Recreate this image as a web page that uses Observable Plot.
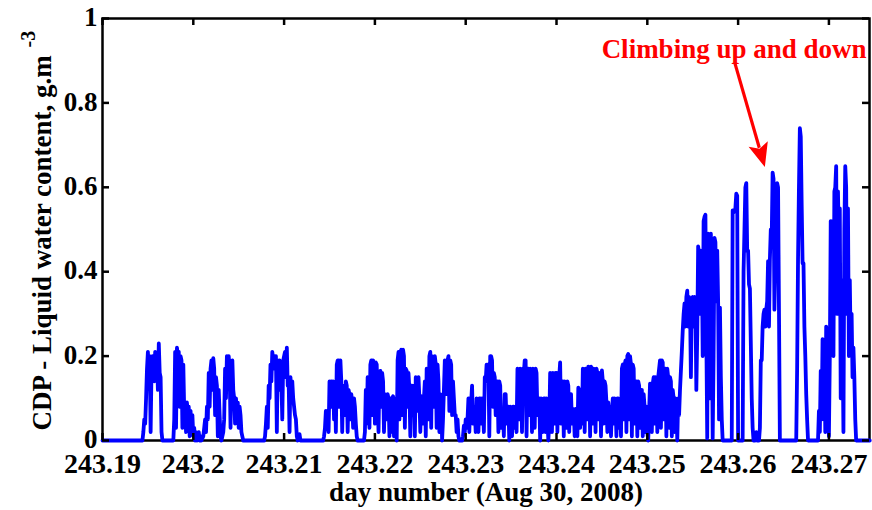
<!DOCTYPE html>
<html><head><meta charset="utf-8">
<script src="https://cdn.jsdelivr.net/npm/d3@7"></script>
<script src="https://cdn.jsdelivr.net/npm/@observablehq/plot@0.6"></script>
<style>
html,body{margin:0;padding:0;background:#fff;}
#chart{width:872px;height:510px;}
</style></head><body><div id="chart"></div>
<script>
// ---- axis ticks / labels ----
const xTicks = [243.19, 243.2, 243.21, 243.22, 243.23, 243.24, 243.25, 243.26, 243.27];
const yTicks = [0, 0.2, 0.4, 0.6, 0.8, 1];
const xDomain = [243.19, 243.27447];
const yDomain = [0, 1];
const xLabel = "day number (Aug 30, 2008)";
const yLabel = "CDP - Liquid water content, g.m";
const yLabelSup = "-3";
const annotationText = "Climbing up and down";
const arrowFrom = [243.2597, 0.893];
const arrowTo = [243.2630, 0.647];

// ---- CDP liquid water content series: [day number, g/m^3] ----
const lead = [[243.19,0]];
const burst1 = [[243.1944,0],[243.1945,0.02],[243.1946,0.05],[243.1947,0.04],[243.1948,0.10],[243.1949,0.17],[243.1950,0.21],[243.1951,0.16],[243.1952,0.20],[243.1953,0.02],[243.1954,0.17],[243.1955,0.20],[243.1956,0.19],[243.1957,0.14],[243.1958,0.21],[243.1959,0.16],[243.1960,0.20],[243.1961,0.12],[243.1962,0.23],[243.1963,0.16],[243.1964,0.15],[243.1965,0.02],[243.1966,0]];
const burst2 = [[243.1978,0],[243.1979,0.05],[243.1980,0.21],[243.1981,0.03],[243.1982,0.22],[243.1983,0.20],[243.1984,0.21],[243.1985,0.08],[243.1986,0.20],[243.1987,0.19],[243.1988,0.03],[243.1989,0.18],[243.1990,0.07],[243.1991,0.08],[243.1992,0.02],[243.1993,0.09],[243.1994,0.06],[243.1995,0.08],[243.1996,0.01],[243.1997,0.07],[243.1998,0.03],[243.1999,0.06],[243.2000,0.01],[243.2001,0.03],[243.2002,0],[243.2003,0.02],[243.2004,0],[243.2006,0.02],[243.2007,0],[243.2008,0.01],[243.2009,0]];
const burst3 = [[243.2011,0.01],[243.2012,0.03],[243.2013,0.05],[243.2014,0.02],[243.2015,0.08],[243.2016,0.05],[243.2017,0.16],[243.2018,0.08],[243.2019,0.17],[243.2020,0.19],[243.2021,0.12],[243.2022,0.195],[243.2023,0.17],[243.2024,0.06],[243.2025,0.15],[243.2026,0.13],[243.2027,0.01],[243.2028,0.12],[243.2029,0.06],[243.2030,0.01],[243.2031,0]];
const burst4 = [[243.2033,0.02],[243.2034,0.05],[243.2035,0.17],[243.2036,0.10],[243.2037,0.20],[243.2038,0.16],[243.2039,0.20],[243.2040,0.17],[243.2041,0.03],[243.2042,0.17],[243.2043,0.19],[243.2044,0.12],[243.2045,0.10],[243.2046,0.04],[243.2047,0.10],[243.2048,0.07],[243.2049,0.09],[243.2050,0.03],[243.2051,0.08],[243.2052,0.06],[243.2053,0.02],[243.2054,0.01],[243.2055,0]];
const burst5 = [[243.2078,0],[243.2079,0.01],[243.2080,0.04],[243.2081,0.08],[243.2082,0.03],[243.2083,0.13],[243.2084,0.10],[243.2085,0.18],[243.2086,0.14],[243.2087,0.21],[243.2088,0.19],[243.2089,0.20],[243.2090,0.17],[243.2091,0.20],[243.2092,0.02],[243.2093,0.19],[243.2094,0.16],[243.2095,0.19],[243.2096,0.12],[243.2097,0.14],[243.2098,0.05],[243.2099,0.19],[243.2100,0.20],[243.2101,0.21],[243.2102,0.15],[243.2103,0.22],[243.2104,0.13],[243.2105,0.14],[243.2106,0.02],[243.2107,0.15],[243.2108,0.11],[243.2109,0.14],[243.2110,0.10],[243.2111,0.08],[243.2112,0.06],[243.2113,0.05],[243.2114,0.01],[243.2115,0],[243.2116,0.01],[243.2117,0.015],[243.2118,0]];
const burst6 = [[243.2143,0],[243.2144,0.01],[243.2145,0.03],[243.2146,0.07],[243.2147,0.06],[243.2148,0.07],[243.2149,0.02],[243.2150,0.14],[243.2151,0.12],[243.2152,0.14],[243.2153,0.08],[243.2154,0.14],[243.2155,0.05],[243.2156,0.13],[243.2157,0.02],[243.2158,0.18],[243.2159,0.19],[243.2160,0.19],[243.2161,0.08],[243.2162,0.19],[243.2163,0.14],[243.2164,0.02],[243.2165,0.13],[243.2166,0.12],[243.2167,0.06],[243.2168,0.14],[243.2169,0.13],[243.2170,0.02],[243.2171,0.12],[243.2172,0.11],[243.2173,0.05],[243.2174,0.11],[243.2175,0.09],[243.2176,0.03],[243.2177,0.10],[243.2178,0.08],[243.2179,0.04],[243.2180,0.01],[243.2181,0]];
const burst7 = [[243.2188,0],[243.2189,0.02],[243.2190,0.12],[243.2191,0.04],[243.2192,0.15],[243.2193,0.12],[243.2194,0.03],[243.2195,0.18],[243.2196,0.19],[243.2197,0.06],[243.2198,0.19],[243.2199,0.17],[243.2200,0.04],[243.2201,0.185],[243.2202,0.18],[243.2203,0.09],[243.2204,0.02],[243.2205,0.16],[243.2206,0.165],[243.2207,0.08],[243.2208,0.16],[243.2209,0.14],[243.2210,0.02],[243.2211,0.11],[243.2212,0.10],[243.2213,0.05],[243.2214,0.11],[243.2215,0.10],[243.2216,0.01],[243.2217,0.10],[243.2218,0.02],[243.2219,0.10],[243.2220,0.105],[243.2221,0.01],[243.2222,0.10],[243.2223,0.07],[243.2224,0],[243.2225,0.19],[243.2226,0.21],[243.2227,0.05],[243.2228,0.21],[243.2229,0.215],[243.2230,0.06],[243.2231,0.215],[243.2232,0.20],[243.2233,0.03],[243.2234,0.17],[243.2235,0.165],[243.2236,0.08],[243.2237,0.16],[243.2238,0.12],[243.2239,0.01],[243.2240,0.13],[243.2241,0.13],[243.2242,0.06],[243.2243,0.13],[243.2244,0.01],[243.2245,0.15],[243.2246,0.14],[243.2247,0.07],[243.2248,0.15],[243.2249,0.10],[243.2250,0.02],[243.2251,0.105],[243.2252,0.09],[243.2253,0.04],[243.2254,0.10],[243.2255,0.14],[243.2256,0.01],[243.2257,0.17],[243.2258,0.14],[243.2259,0.05],[243.2260,0.20],[243.2261,0.21],[243.2262,0.03],[243.2263,0.20],[243.2264,0.19],[243.2265,0.08],[243.2266,0.20],[243.2267,0.18],[243.2268,0.03],[243.2269,0.18],[243.2270,0.14],[243.2271,0.02],[243.2272,0.11],[243.2273,0.10],[243.2274,0],[243.2275,0.05],[243.2276,0.12],[243.2277,0.19],[243.2278,0.15],[243.2279,0.11],[243.2280,0.19],[243.2281,0.20],[243.2282,0.07],[243.2283,0.19],[243.2284,0.18],[243.2285,0.06],[243.2286,0.14],[243.2287,0.10],[243.2288,0.06],[243.2289,0.06],[243.2290,0.02],[243.2291,0.05],[243.2292,0.01],[243.2293,0]];
const passA = [[243.2296,0],[243.2297,0.01],[243.2298,0.035],[243.2299,0.02],[243.2300,0.05],[243.2301,0.03],[243.2302,0.05],[243.2303,0.10],[243.2304,0.02],[243.2305,0.10],[243.2306,0.09],[243.2307,0.13],[243.2308,0.04],[243.2309,0.08],[243.2310,0.07],[243.2311,0.02],[243.2312,0.10],[243.2313,0.09],[243.2314,0.02],[243.2315,0.10],[243.2316,0.10],[243.2317,0.04],[243.2318,0.10],[243.2319,0.08],[243.2320,0.02],[243.2321,0.15],[243.2322,0.14],[243.2323,0.18],[243.2324,0.17],[243.2325,0.18],[243.2326,0.01],[243.2327,0.20],[243.2328,0.20],[243.2329,0.19],[243.2330,0.08],[243.2331,0.16],[243.2332,0.15],[243.2333,0.06],[243.2334,0.14],[243.2335,0.14],[243.2336,0.02],[243.2337,0.14],[243.2338,0.13],[243.2339,0.03],[243.2340,0.07],[243.2341,0.07],[243.2342,0.01],[243.2343,0.11],[243.2344,0.11],[243.2345,0.04],[243.2346,0.06],[243.2347,0.08],[243.2348,0],[243.2349,0.08],[243.2350,0.06],[243.2351,0.01],[243.2352,0.08],[243.2353,0.08],[243.2354,0.03],[243.2355,0.08],[243.2356,0.02],[243.2357,0.17],[243.2358,0.16],[243.2359,0.05],[243.2360,0.17],[243.2361,0.15],[243.2362,0.02],[243.2363,0.17],[243.2364,0.16],[243.2365,0.19],[243.2366,0.19],[243.2367,0.01],[243.2368,0.17],[243.2369,0.17],[243.2370,0.06],[243.2371,0.17],[243.2372,0.16],[243.2373,0.02],[243.2374,0.17],[243.2375,0.16],[243.2376,0.03],[243.2377,0.17],[243.2378,0.16],[243.2379,0.06],[243.2380,0.10],[243.2381,0.10],[243.2382,0],[243.2383,0.10],[243.2384,0.09],[243.2385,0.02],[243.2386,0.10],[243.2387,0.10],[243.2388,0.02],[243.2389,0.10],[243.2390,0.05],[243.2391,0],[243.2392,0.04],[243.2393,0.16],[243.2394,0.15],[243.2395,0.02],[243.2396,0.16],[243.2397,0.15],[243.2398,0.04],[243.2399,0.16],[243.2400,0.16],[243.2401,0.02],[243.2402,0.16],[243.2403,0.15],[243.2404,0.185],[243.2405,0.04],[243.2406,0.14],[243.2407,0.14],[243.2408,0.01],[243.2409,0.14],[243.2410,0.13],[243.2411,0.03],[243.2412,0.14],[243.2413,0.13],[243.2414,0.02],[243.2415,0.11],[243.2416,0.11],[243.2417,0.04],[243.2418,0.075],[243.2419,0.07],[243.2420,0.01],[243.2421,0.075],[243.2422,0.07],[243.2423,0.01],[243.2424,0.125],[243.2425,0.12],[243.2426,0.03],[243.2427,0.12],[243.2428,0.04],[243.2429,0.17],[243.2430,0.16],[243.2431,0.02],[243.2432,0.17],[243.2433,0.16],[243.2434,0.05],[243.2435,0.175],[243.2436,0.17],[243.2437,0.01],[243.2438,0.175],[243.2439,0.17],[243.2440,0.04],[243.2441,0.17],[243.2442,0.16],[243.2443,0.02],[243.2444,0.17],[243.2445,0.16],[243.2446,0.05],[243.2447,0.16],[243.2448,0.15],[243.2449,0.01]];
const passB = [[243.2450,0.166],[243.2451,0.14],[243.2452,0.04],[243.2453,0.14],[243.2454,0.13],[243.2455,0.09],[243.2456,0.02],[243.2457,0.09],[243.2458,0.05],[243.2459,0.08],[243.2460,0.01],[243.2461,0.07],[243.2462,0.10],[243.2463,0.04],[243.2464,0.10],[243.2465,0.09],[243.2466,0.01],[243.2467,0.10],[243.2468,0.10],[243.2469,0.03],[243.2470,0.09],[243.2471,0.01],[243.2472,0.17],[243.2473,0.18],[243.2474,0.05],[243.2475,0.18],[243.2476,0.19],[243.2477,0.02],[243.2478,0.20],[243.2479,0.205],[243.2480,0.05],[243.2481,0.20],[243.2482,0.18],[243.2483,0.01],[243.2484,0.18],[243.2485,0.17],[243.2486,0.04],[243.2487,0.14],[243.2488,0.14],[243.2489,0.01],[243.2490,0.14],[243.2491,0.13],[243.2492,0.03],[243.2493,0.12],[243.2494,0.12],[243.2495,0.01],[243.2496,0.11],[243.2497,0.08],[243.2498,0.02],[243.2499,0.08],[243.2500,0.02],[243.2501,0],[243.2502,0.07],[243.2503,0.135],[243.2504,0.13],[243.2505,0.02],[243.2506,0.135],[243.2507,0.15],[243.2508,0.04],[243.2509,0.15],[243.2510,0.14],[243.2511,0.02],[243.2512,0.15],[243.2513,0.17],[243.2514,0.19],[243.2515,0.03],[243.2516,0.19],[243.2517,0.185],[243.2518,0.05],[243.2519,0.17],[243.2520,0.17],[243.2521,0.01],[243.2522,0.17],[243.2523,0.15],[243.2524,0.03],[243.2525,0.15],[243.2526,0.14],[243.2527,0.01],[243.2528,0.12],[243.2529,0.10],[243.2530,0.02],[243.2531,0.10],[243.2532,0.09],[243.2533,0],[243.2534,0.10],[243.2535,0.06],[243.2536,0.12],[243.2537,0.165],[243.2538,0.21],[243.2539,0.26],[243.2540,0.30],[243.2541,0.325],[243.2542,0.27],[243.2543,0.34],[243.2544,0.355],[243.2545,0.27],[243.2546,0.34],[243.2547,0.33],[243.2548,0.15],[243.2549,0.33],[243.2550,0.34],[243.2551,0.27],[243.2552,0.34],[243.2553,0.33],[243.2554,0.12],[243.2555,0.25],[243.2556,0.46],[243.2557,0.44],[243.2558,0.30],[243.2559,0.45],[243.2560,0.44],[243.2561,0.20],[243.2562,0.52],[243.2563,0.53],[243.2564,0.535],[243.2565,0.25],[243.2566,0.005],[243.2567,0.49],[243.2568,0.48],[243.2569,0.10],[243.2570,0.49],[243.2571,0.30],[243.2572,0.005],[243.2573,0.20],[243.2574,0.48],[243.2575,0.47],[243.2576,0.33],[243.2577,0.45],[243.2578,0.33],[243.2579,0.05],[243.2580,0.315],[243.2581,0.15],[243.2582,0.05],[243.2583,0]];
const climbs = [[243.2593,0],[243.2594,0.545],[243.2595,0.54],[243.2596,0.545],[243.2597,0.55],[243.2598,0.585],[243.2599,0.58],[243.2600,0],[243.2605,0],[243.2606,0.40],[243.2607,0.50],[243.2608,0.60],[243.2609,0.61],[243.2610,0.45],[243.2611,0.45],[243.2612,0.37],[243.2613,0.36],[243.2614,0.23],[243.2615,0.10],[243.2616,0.03],[243.2617,0],[243.2618,0.01],[243.2619,0],[243.2620,0.02],[243.2621,0],[243.2623,0],[243.2624,0.03],[243.2625,0.19],[243.2626,0.19],[243.2627,0.27],[243.2628,0.30],[243.2629,0.31],[243.2630,0.27],[243.2631,0.31],[243.2632,0.33],[243.2633,0.425],[243.2634,0.27],[243.2635,0.43],[243.2636,0.50],[243.2637,0.48],[243.2638,0.635],[243.2639,0.62],[243.2640,0.31],[243.2641,0.42],[243.2642,0.45],[243.2643,0.61],[243.2644,0.60],[243.2645,0.31],[243.2646,0]];
const burst11 = [[243.2664,0],[243.2665,0.17],[243.2666,0.43],[243.2667,0.60],[243.2668,0.74],[243.2669,0.72],[243.2670,0.56],[243.2671,0.42],[243.2672,0.42],[243.2673,0.27],[243.2674,0.20],[243.2675,0.11],[243.2676,0.05],[243.2677,0]];
const burst12 = [[243.2688,0],[243.2689,0.07],[243.2690,0.02],[243.2691,0.165],[243.2692,0.05],[243.2693,0.24],[243.2694,0.10],[243.2695,0.23],[243.2696,0.02],[243.2697,0.27],[243.2698,0.12],[243.2699,0.26],[243.2700,0.01],[243.2701,0.20],[243.2702,0.52],[243.2703,0.44],[243.2704,0.52],[243.2705,0.20],[243.2706,0.59],[243.2707,0.60],[243.2708,0.65],[243.2709,0.30],[243.2710,0.59],[243.2711,0.45],[243.2712,0.55],[243.2713,0.10],[243.2714,0.38],[243.2715,0.25],[243.2716,0.02],[243.2717,0.50],[243.2718,0.65],[243.2719,0.60],[243.2720,0.30],[243.2721,0.55],[243.2722,0.20],[243.2723,0.38],[243.2724,0.22],[243.2725,0.30],[243.2726,0.15],[243.2727,0.22],[243.2728,0.15],[243.2729,0.05],[243.2730,0],[243.2745,0]];

const series = [].concat(lead, burst1, burst2, burst3, burst4, burst5, burst6, burst7, passA, passB, climbs, burst11, burst12)
  .map(([day, lwc]) => ({day, lwc}));

// ---- layout ----
const W = 872, H = 510;
const mL = 102, mR = 3, mT = 18, mB = 70;
const tickLen = 7;
const frameW = W - mL - mR, frameH = H - mT - mB;
const font = "'Liberation Serif','Times New Roman',Times,serif";

function arrowMark(index, scales) {
  const x1 = scales.x(arrowFrom[0]), y1 = scales.y(arrowFrom[1]);
  const x2 = scales.x(arrowTo[0]), y2 = scales.y(arrowTo[1]);
  const len = Math.hypot(x2 - x1, y2 - y1);
  const ux = (x2 - x1) / len, uy = (y2 - y1) / len;
  const L = 24, Wd = 10;
  const bx = x2 - ux * L, by = y2 - uy * L;
  const g = d3.create("svg:g");
  g.append("line").attr("x1", x1).attr("y1", y1).attr("x2", bx + ux * 4).attr("y2", by + uy * 4)
    .attr("stroke", "#ff0000").attr("stroke-width", 3.2);
  g.append("path")
    .attr("d", `M${x2},${y2}L${bx - uy * Wd},${by + ux * Wd}L${bx + ux * 5},${by + uy * 5}L${bx + uy * Wd},${by - ux * Wd}Z`)
    .attr("fill", "#ff0000");
  return g.node();
}

const txt = {fontSize: 27, fontWeight: "bold", lineAnchor: "middle"};

const chart = Plot.plot({
  width: W, height: H,
  marginLeft: mL, marginRight: mR, marginTop: mT, marginBottom: mB,
  x: {domain: xDomain, label: null},
  y: {domain: yDomain, label: null},
  style: {fontFamily: font, fontWeight: "bold", fontSize: "27px", color: "black", background: "white", overflow: "visible"},
  marks: [
    Plot.frame({stroke: "black", strokeWidth: 2.5}),
    Plot.line(series, {x: "day", y: "lwc", stroke: "#0000ff", strokeWidth: 3.8, strokeLinejoin: "round"}),
    // inward tick marks on all four sides
    Plot.tickX(xTicks, {x: d => d, insetTop: frameH - tickLen, stroke: "black", strokeWidth: 2.5}),
    Plot.tickX(xTicks, {x: d => d, insetBottom: frameH - tickLen, stroke: "black", strokeWidth: 2.5}),
    Plot.tickY(yTicks, {y: d => d, insetRight: frameW - tickLen, stroke: "black", strokeWidth: 2.5}),
    Plot.tickY(yTicks, {y: d => d, insetLeft: frameW - tickLen, stroke: "black", strokeWidth: 2.5}),
    Plot.axisX({ticks: xTicks, tickSize: 0, tickPadding: 13, tickFormat: d => String(d), label: null, fontSize: 28, fill: "black"}),
    Plot.axisY({ticks: yTicks, tickSize: 0, tickPadding: 5, tickFormat: d => String(d), label: null, fontSize: 27, fill: "black", dy: -1}),
    Plot.text([xLabel], {...txt, text: d => d, frameAnchor: "bottom", textAnchor: "middle", dy: 52, fill: "black"}),
    Plot.text([yLabel], {...txt, text: d => d, frameAnchor: "bottom-left", rotate: -90, textAnchor: "start", dx: -60.6, dy: -10, fill: "black"}),
    Plot.text([yLabelSup], {...txt, fontSize: 20, text: d => d, frameAnchor: "top-left", rotate: -90, textAnchor: "start", dx: -74, dy: 29, fill: "black"}),
    Plot.text([annotationText], {...txt, text: d => d, frameAnchor: "top-right", textAnchor: "end", dx: -3, dy: 30.4, fill: "#ff0000"}),
    arrowMark
  ]
});
document.getElementById("chart").appendChild(chart);
</script>
</body></html>
